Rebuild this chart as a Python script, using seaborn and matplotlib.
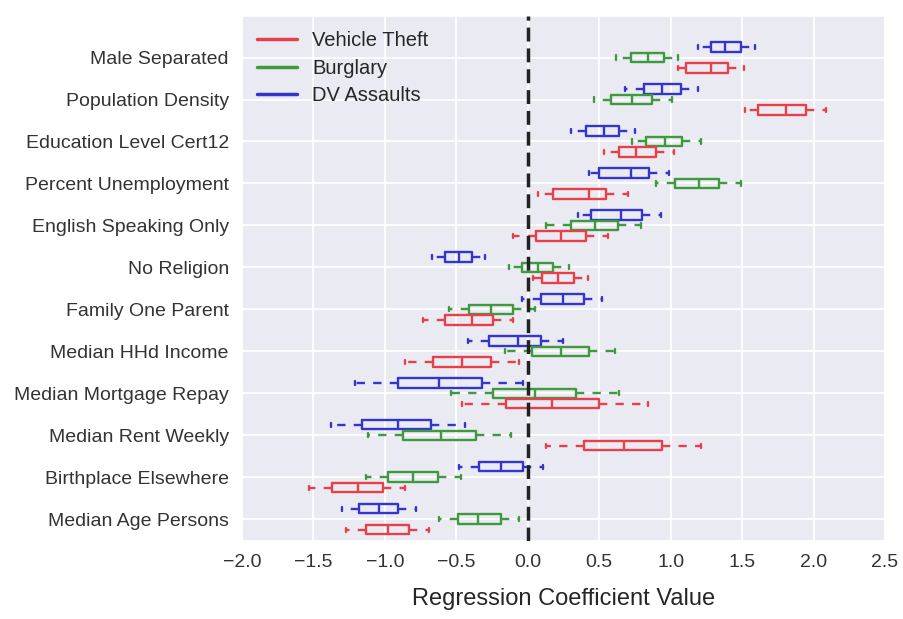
import numpy as np
import pandas as pd
import matplotlib
matplotlib.use("Agg")
import matplotlib.pyplot as plt
from matplotlib.lines import Line2D
import seaborn as sns

variables = [
    "Male Separated", "Population Density", "Education Level Cert12",
    "Percent Unemployment", "English Speaking Only", "No Religion",
    "Family One Parent", "Median HHd Income", "Median Mortgage Repay",
    "Median Rent Weekly", "Birthplace Elsewhere", "Median Age Persons",
]

# Five-number summaries (whisker low, Q1, median, Q3, whisker high) per model
vt_low = [1.05, 1.52, 0.53, 0.07, -0.10, 0.04, -0.73, -0.86, -0.46, 0.13, -1.53, -1.27]
vt_q1 = [1.11, 1.61, 0.64, 0.18, 0.06, 0.10, -0.58, -0.66, -0.15, 0.39, -1.37, -1.13]
vt_med = [1.28, 1.81, 0.76, 0.43, 0.23, 0.21, -0.39, -0.46, 0.17, 0.67, -1.19, -0.98]
vt_q3 = [1.40, 1.95, 0.90, 0.55, 0.41, 0.32, -0.24, -0.26, 0.50, 0.94, -1.01, -0.83]
vt_high = [1.51, 2.09, 1.02, 0.70, 0.56, 0.42, -0.10, -0.06, 0.84, 1.21, -0.86, -0.69]

bg_low = [0.62, 0.46, 0.73, 0.90, 0.13, -0.13, -0.55, -0.16, -0.54, -1.12, -1.13, -0.62]
bg_q1 = [0.72, 0.58, 0.83, 1.03, 0.30, -0.04, -0.41, 0.03, -0.24, -0.87, -0.98, -0.49]
bg_med = [0.84, 0.73, 0.96, 1.20, 0.47, 0.07, -0.26, 0.23, 0.05, -0.61, -0.80, -0.35]
bg_q3 = [0.95, 0.87, 1.08, 1.34, 0.63, 0.18, -0.10, 0.43, 0.34, -0.36, -0.63, -0.19]
bg_high = [1.05, 1.01, 1.21, 1.49, 0.79, 0.29, 0.05, 0.61, 0.64, -0.12, -0.47, -0.06]

dv_low = [1.19, 0.68, 0.30, 0.43, 0.35, -0.67, -0.04, -0.42, -1.21, -1.38, -0.48, -1.30]
dv_q1 = [1.28, 0.81, 0.41, 0.50, 0.44, -0.58, 0.09, -0.27, -0.91, -1.16, -0.34, -1.18]
dv_med = [1.38, 0.94, 0.53, 0.72, 0.65, -0.48, 0.25, -0.07, -0.62, -0.91, -0.19, -1.04]
dv_q3 = [1.49, 1.07, 0.64, 0.85, 0.80, -0.39, 0.39, 0.09, -0.32, -0.68, -0.03, -0.91]
dv_high = [1.59, 1.19, 0.75, 0.99, 0.93, -0.30, 0.52, 0.25, -0.03, -0.44, 0.11, -0.78]

series = {
    "Vehicle Theft": [vt_low, vt_q1, vt_med, vt_q3, vt_high],
    "Burglary": [bg_low, bg_q1, bg_med, bg_q3, bg_high],
    "DV Assaults": [dv_low, dv_q1, dv_med, dv_q3, dv_high],
}
colors = {"Vehicle Theft": "#e8404a", "Burglary": "#3f9a3f", "DV Assaults": "#3535cc"}

rows = []
for name, stats in series.items():
    for i, var in enumerate(variables):
        for s in stats:
            rows.append({"variable": var, "model": name, "coef": s[i]})
df = pd.DataFrame(rows)

sns.set_theme(style="darkgrid")
plt.rcParams["font.family"] = ["Liberation Sans", "DejaVu Sans"]

fig = plt.figure(figsize=(9.04, 6.19), dpi=100)
ax = fig.add_axes([242 / 904, 1 - 541 / 619, (885 - 242) / 904, (541 - 16) / 619])

sns.boxplot(
    data=df, x="coef", y="variable", hue="model",
    order=variables, hue_order=["DV Assaults", "Burglary", "Vehicle Theft"],
    palette=colors, fill=False, whis=(0, 100), width=0.75, gap=0.1,
    linewidth=1.7, whiskerprops=dict(linestyle=(0, (3.5, 3.5))),
    capwidths=0.1, legend=False, ax=ax,
)

ax.axvline(0, color="#222222", linestyle=(0, (4, 2)), linewidth=2.5, zorder=5)

ax.set_xlim(-2.0, 2.5)
ax.set_xticks(np.arange(-2.0, 2.51, 0.5))
ax.set_ylim(11.52, -0.99)
ax.set_ylabel("")
ax.set_xlabel("Regression Coefficient Value", fontsize=17, labelpad=12)
ax.tick_params(axis="both", labelsize=14, colors="#333333")
ax.grid(linewidth=1.3)

handles = [Line2D([], [], color=colors[k], linewidth=2.5) for k in series]
ax.legend(handles, list(series.keys()), loc="upper left", frameon=False,
          fontsize=14.5, handlelength=2.0, handletextpad=0.75, labelspacing=0.42,
          borderaxespad=0.35, bbox_to_anchor=(0.0, 1.0))

fig.savefig("out.png", dpi=100)
